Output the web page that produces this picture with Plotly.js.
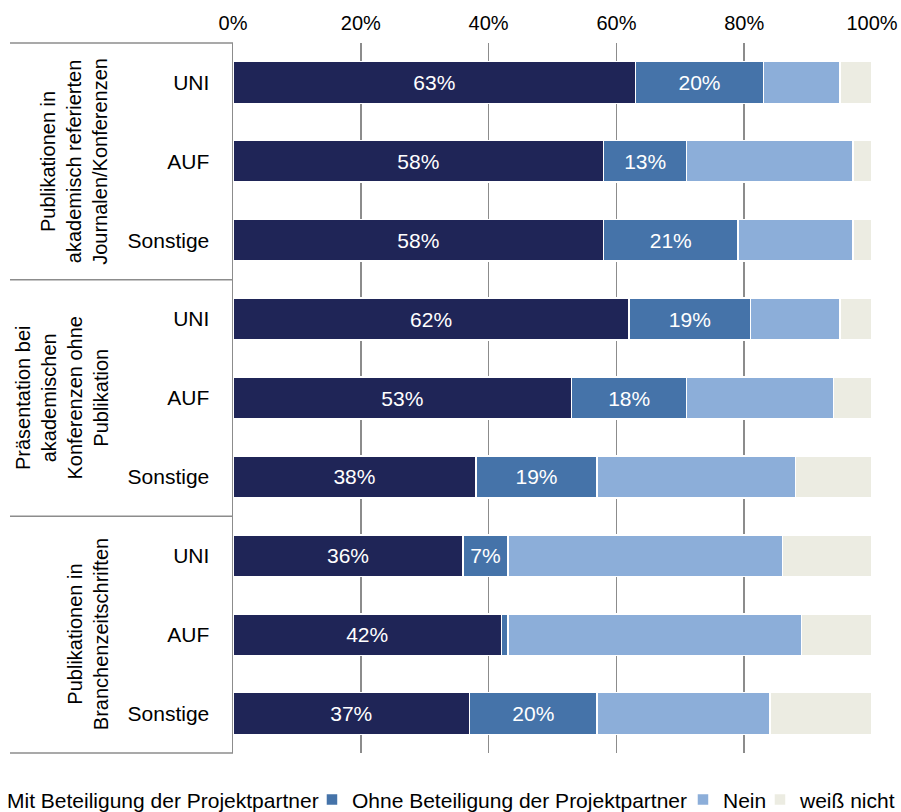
<!DOCTYPE html>
<html>
<head>
<meta charset="utf-8">
<script src="https://cdn.plot.ly/plotly-3.0.1.min.js"></script>
<style>html,body{margin:0;padding:0;background:#fff}#chart{width:901px;height:812px}</style>
</head>
<body>
<div id="chart"></div>
<script>
// categories (top to bottom)
const rowKeys = ["g1-UNI","g1-AUF","g1-Sonstige","g2-UNI","g2-AUF","g2-Sonstige","g3-UNI","g3-AUF","g3-Sonstige"];
const rowLabels = ["UNI","AUF","Sonstige","UNI","AUF","Sonstige","UNI","AUF","Sonstige"];
const groupLabels = [
  "Publikationen in<br>akademisch referierten<br>Journalen/Konferenzen",
  "Präsentation bei<br>akademischen<br>Konferenzen ohne<br>Publikation",
  "Publikationen in<br>Branchenzeitschriften"
];
const seriesNames = ["Mit Beteiligung der Projektpartner","Ohne Beteiligung der Projektpartner","Nein","weiß nicht"];
const mitValues   = [63, 58, 58, 62, 53, 38, 36, 42, 37];
const ohneValues  = [20, 13, 21, 19, 18, 19,  7,  1, 20];
const neinValues  = [12, 26, 18, 14, 23, 31, 43, 46, 27];
const weissValues = [ 5,  3,  3,  5,  6, 12, 14, 11, 16];
const xTickVals = [0, 20, 40, 60, 80, 100];
const xTickText = ["0%","20%","40%","60%","80%","100%"];

const colors = ["#1f2557", "#4573a9", "#8caed9", "#ecece2"];
const allValues = [mitValues, ohneValues, neinValues, weissValues];
const showLabel = [true, true, false, false];
const legendIds = ["legend", "legend2", "legend3", "legend4"];
const legendX = [-0.4163, 0.1236, 0.7042, 0.8247];
const FONT = "Liberation Sans, Arial, sans-serif";

const traces = allValues.map((vals, i) => ({
  type: "bar",
  orientation: "h",
  name: seriesNames[i],
  legend: legendIds[i],
  y: rowKeys,
  x: vals,
  marker: {color: colors[i], line: {color: "#ffffff", width: 1.5}},
  text: showLabel[i] ? vals.map(v => v >= 5 ? v + "%" : "") : vals.map(() => ""),
  textposition: showLabel[i] ? "inside" : "none",
  insidetextanchor: "middle",
  textangle: 0,
  textfont: {color: "#ffffff", size: 21, family: FONT},
  hoverinfo: "x+name"
}));

const grey = "#8c8c8c";
const shapes = [0, 1/3, 2/3, 1].map(yy => ({
  type: "line", xref: "paper", yref: "paper",
  x0: -0.349, x1: 0, y0: yy, y1: yy,
  line: {color: grey, width: 1.5}
}));

const annotations = groupLabels.map((t, i) => ({
  text: t, xref: "paper", yref: "paper",
  x: -0.187, y: 1 - (i + 0.5) / 3,
  xanchor: "right", yanchor: "middle",
  textangle: -90, showarrow: false, align: "center",
  font: {size: 20, family: FONT, color: "#000"}
}));

const layout = {
  width: 901, height: 812,
  margin: {l: 233, r: 29, t: 43, b: 59, autoexpand: false},
  paper_bgcolor: "#fff", plot_bgcolor: "#fff",
  barmode: "stack",
  bargap: 0.47,
  font: {family: FONT, size: 20, color: "#000"},
  showlegend: true,
  xaxis: {
    side: "top", range: [0, 100], tickvals: xTickVals, ticktext: xTickText,
    showgrid: true, gridcolor: grey, gridwidth: 1.5, zeroline: false,
    showline: false, ticks: "", ticklabelstandoff: 8,
    tickfont: {size: 20, family: FONT, color: "#000"},
    fixedrange: true
  },
  yaxis: {
    type: "category", autorange: "reversed",
    tickvals: rowKeys, ticktext: rowLabels,
    showline: true, linecolor: grey, linewidth: 1.5, showgrid: false,
    ticks: "", ticklabelstandoff: 18,
    tickfont: {size: 21, family: FONT, color: "#000"}, fixedrange: true
  },
  shapes: shapes,
  annotations: annotations,
  uniformtext: {mode: "show", minsize: 21}
};
legendIds.forEach((id, i) => {
  layout[id] = {
    orientation: "h", x: legendX[i], xanchor: "left", y: -0.066, yanchor: "middle",
    font: {size: 21, family: FONT, color: "#000"},
    itemwidth: 30, bgcolor: "rgba(0,0,0,0)", borderwidth: 0
  };
});

Plotly.newPlot("chart", traces, layout, {displayModeBar: false, staticPlot: true});
</script>
</body>
</html>
